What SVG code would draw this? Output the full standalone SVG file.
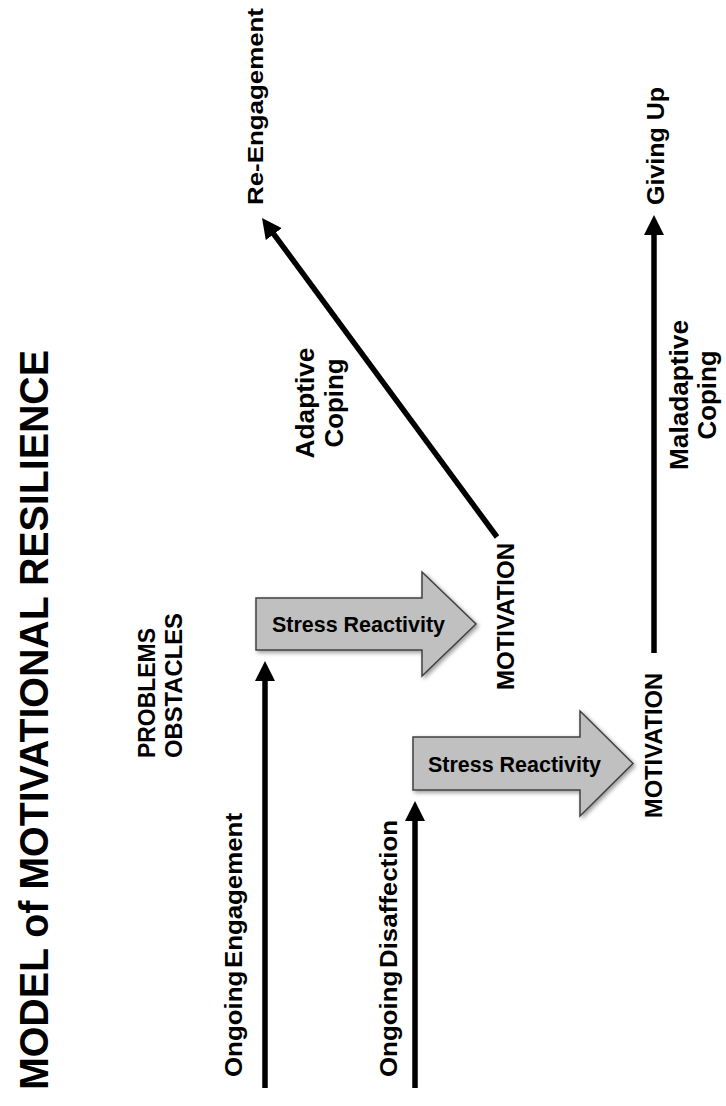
<svg xmlns="http://www.w3.org/2000/svg" width="726" height="1106" viewBox="0 0 726 1106">
<style>
  text { font-family: "Liberation Sans", Arial, sans-serif; font-weight: bold; fill: #000; }
  .line { stroke: #000; stroke-width: 5.5; fill: none; marker-end: url(#head); }
  .block { fill: #c0c0c0; stroke: #404040; stroke-width: 1.5; filter: url(#shadow); }
</style>
<defs>
  <marker id="head" markerUnits="userSpaceOnUse" viewBox="0 0 20 20" markerWidth="20" markerHeight="20" refX="6" refY="10" orient="auto">
    <path d="M0,0 L20,10 L0,20 Z" fill="#000"/>
  </marker>
  <filter id="shadow" x="-10%" y="-20%" width="130%" height="150%">
    <feGaussianBlur in="SourceAlpha" stdDeviation="2"/>
    <feOffset dx="2" dy="2" result="b"/>
    <feComponentTransfer><feFuncA type="linear" slope="0.4"/></feComponentTransfer>
    <feMerge><feMergeNode/><feMergeNode in="SourceGraphic"/></feMerge>
  </filter>
</defs>
<rect width="726" height="1106" fill="#fff"/>

<g id="title">
  <text transform="translate(48,1090) rotate(-90)" font-size="40" textLength="740" lengthAdjust="spacingAndGlyphs">MODEL of MOTIVATIONAL  RESILIENCE</text>
</g>

<g id="connectors">
  <line class="line" x1="265" y1="1088" x2="265" y2="675"/>
  <line class="line" x1="415" y1="1088" x2="415" y2="815"/>
  <line class="line" x1="497" y1="537" x2="270.3" y2="229.3"/>
  <line class="line" x1="654" y1="653" x2="654" y2="229"/>
</g>

<g id="problems-obstacles">
  <text transform="translate(155,758) rotate(-90)" font-size="23" textLength="130" lengthAdjust="spacingAndGlyphs">PROBLEMS</text>
  <text transform="translate(182,758) rotate(-90)" font-size="23" textLength="145" lengthAdjust="spacingAndGlyphs">OBSTACLES</text>
</g>

<g id="ongoing-engagement">
  <text transform="translate(242,1077) rotate(-90)" font-size="23" word-spacing="-4" textLength="264" lengthAdjust="spacingAndGlyphs">Ongoing Engagement</text>
</g>

<g id="ongoing-disaffection">
  <text transform="translate(397,1077) rotate(-90)" font-size="23" word-spacing="-4" textLength="257" lengthAdjust="spacingAndGlyphs">Ongoing Disaffection</text>
</g>

<g id="stress-reactivity-1">
  <path class="block" d="M256,598 L422,598 L422,572 L476,624 L422,676 L422,650 L256,650 Z"/>
  <text x="272" y="632" font-size="22" textLength="173" lengthAdjust="spacingAndGlyphs">Stress Reactivity</text>
</g>

<g id="stress-reactivity-2">
  <path class="block" d="M413,737 L580,737 L580,711 L633,763.5 L580,816 L580,790 L413,790 Z"/>
  <text x="428" y="772" font-size="22" textLength="173" lengthAdjust="spacingAndGlyphs">Stress Reactivity</text>
</g>

<g id="motivation-1">
  <text transform="translate(514,690) rotate(-90)" font-size="23" textLength="147" lengthAdjust="spacingAndGlyphs">MOTIVATION</text>
</g>

<g id="motivation-2">
  <text transform="translate(662,818) rotate(-90)" font-size="23" textLength="145" lengthAdjust="spacingAndGlyphs">MOTIVATION</text>
</g>

<g id="adaptive-coping">
  <text transform="translate(314,403) rotate(-90)" font-size="25" text-anchor="middle" textLength="111" lengthAdjust="spacingAndGlyphs">Adaptive</text>
  <text transform="translate(343,403) rotate(-90)" font-size="25" text-anchor="middle" textLength="89" lengthAdjust="spacingAndGlyphs">Coping</text>
</g>

<g id="maladaptive-coping">
  <text transform="translate(688,395) rotate(-90)" font-size="25" text-anchor="middle" textLength="150" lengthAdjust="spacingAndGlyphs">Maladaptive</text>
  <text transform="translate(716,395) rotate(-90)" font-size="25" text-anchor="middle" textLength="89" lengthAdjust="spacingAndGlyphs">Coping</text>
</g>

<g id="re-engagement">
  <text transform="translate(263,205) rotate(-90)" font-size="22" textLength="197" lengthAdjust="spacingAndGlyphs">Re-Engagement</text>
</g>

<g id="giving-up">
  <text transform="translate(664,205) rotate(-90)" font-size="23" textLength="118" lengthAdjust="spacingAndGlyphs">Giving Up</text>
</g>
</svg>
